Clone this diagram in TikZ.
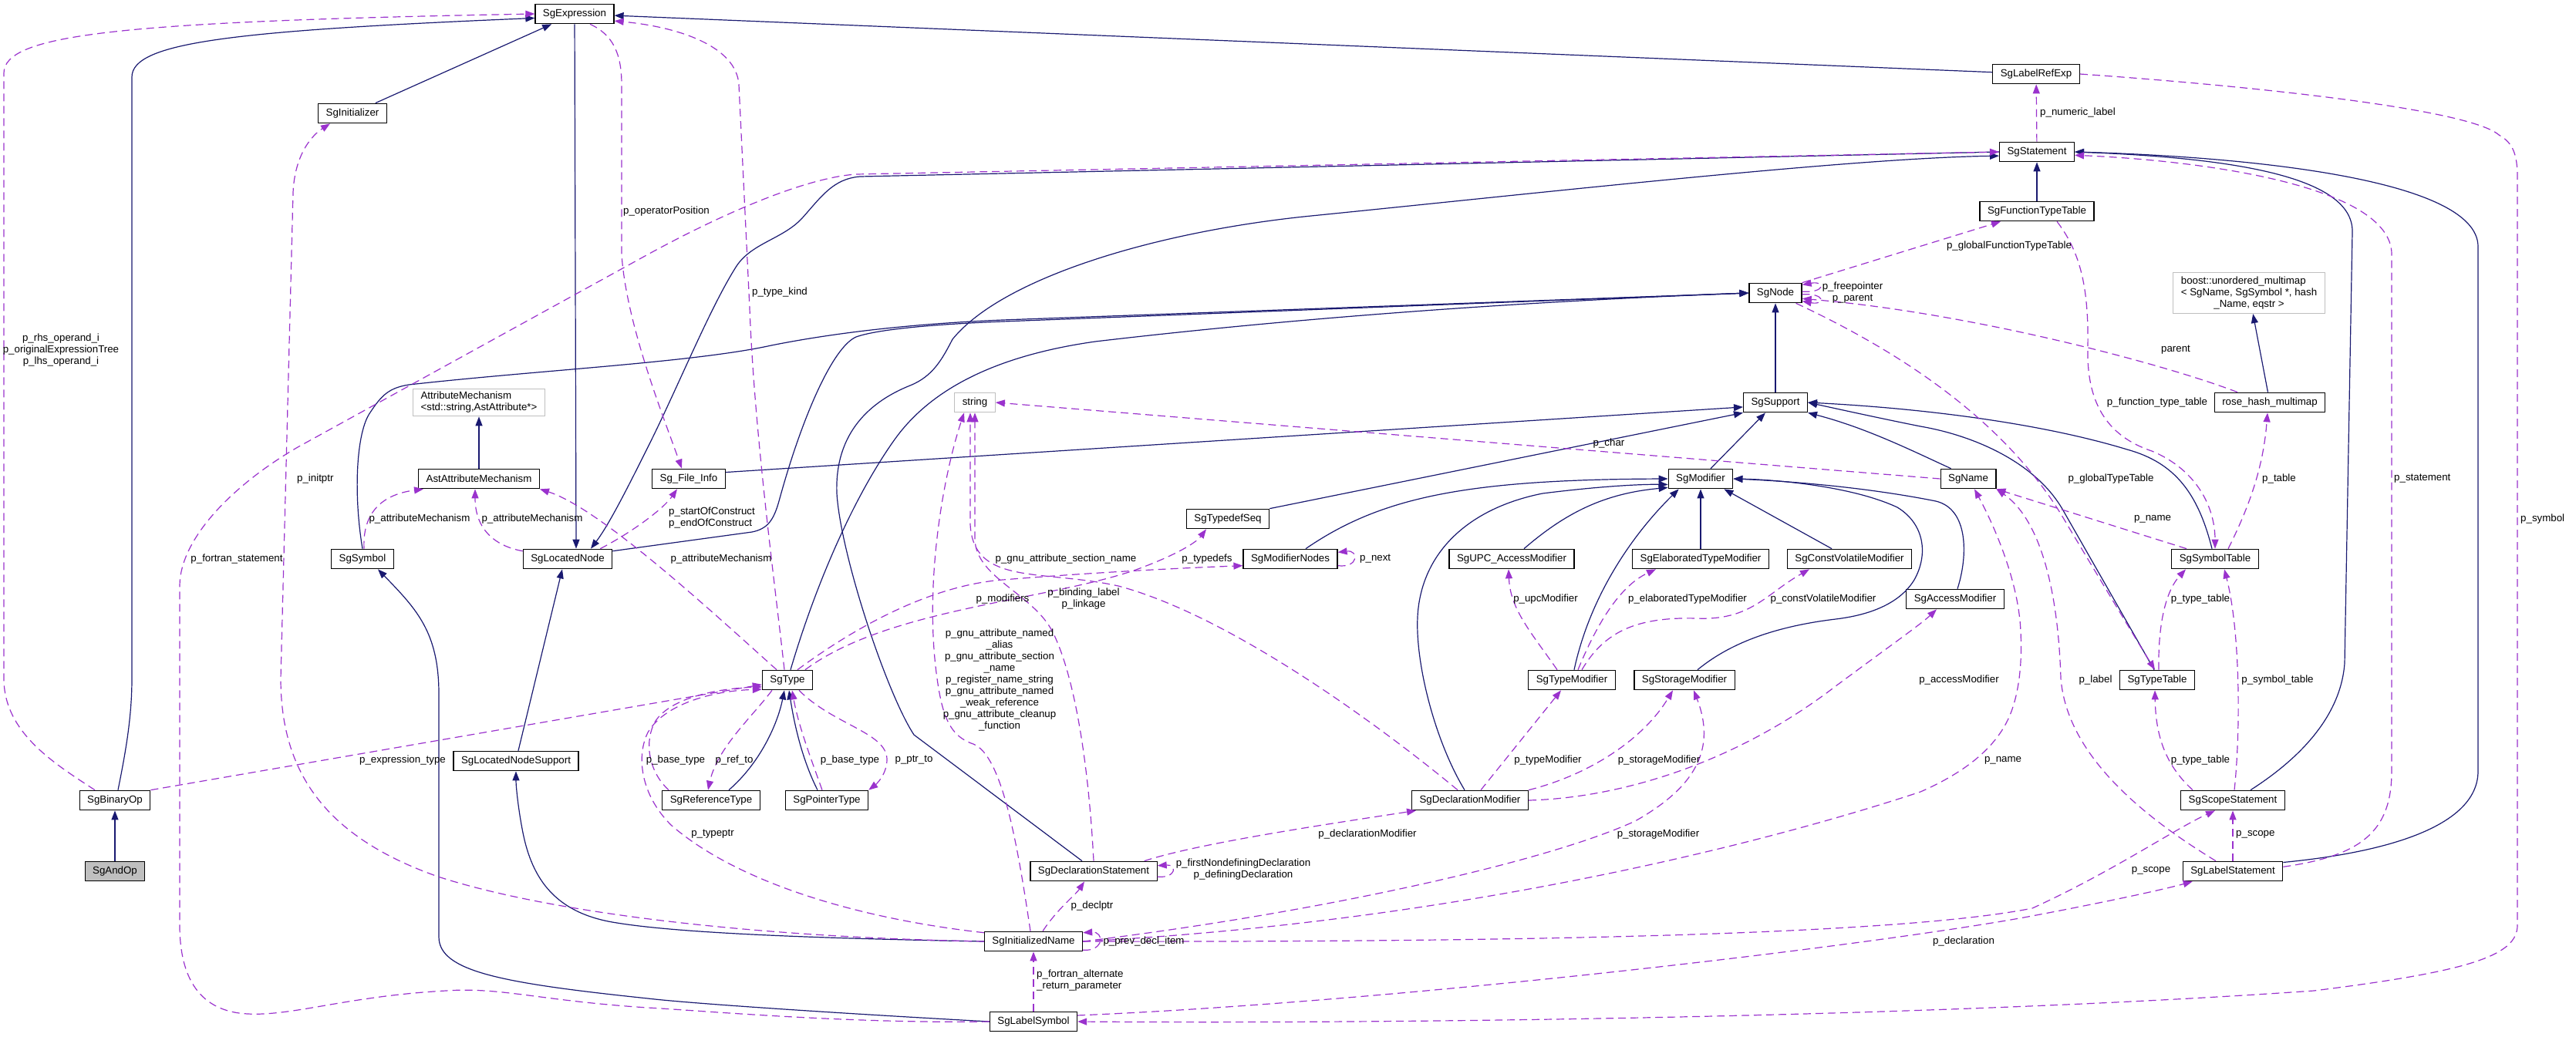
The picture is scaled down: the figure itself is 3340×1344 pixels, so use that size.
\documentclass[tikz,border=0pt]{standalone}
\usepackage{fontspec}
\newfontfamily\dxfont{Liberation Sans}
\newcommand\dxtext{\dxfont\fontsize{13.3}{15}\selectfont}
\usetikzlibrary{arrows.meta}
\definecolor{dxnavy}{HTML}{191970}
\definecolor{dxorchid}{HTML}{9A32CD}
\definecolor{dxgray}{HTML}{BFBFBF}
\tikzset{
    cls/.style={draw=black, fill=white, line width=1.2pt, minimum height=25.5pt,
                inner xsep=10pt, inner ysep=2pt, font=\dxtext},
    ext/.style={cls, draw=dxgray, align=left, inner ysep=4pt},
    inh/.style={draw=dxnavy, line width=1.2pt, -{Triangle[length=12pt,width=9pt]}},
    use/.style={draw=dxorchid, line width=1.2pt, dash pattern=on 10pt off 6pt,
                -{Triangle[length=12pt,width=9pt]}},
    lbl/.style={font=\dxtext, inner sep=0pt, align=center},
}
\begin{document}
\begin{tikzpicture}[x=1pt,y=-1pt]
    \useasboundingbox (0,0) rectangle (3340,1344);

    % classes
    \node[cls] (expr) at (745,18) {SgExpression};
    \node[cls] (init) at (457,147) {SgInitializer};
    \node[cls] (lref) at (2640,96) {SgLabelRefExp};
    \node[cls] (stmt) at (2641,197) {SgStatement};
    \node[cls] (ftt) at (2641,274) {SgFunctionTypeTable};
    \node[cls] (sgnode) at (2302,380) {SgNode};
    \node[ext] (boost) at (2916,380) {\begin{tabular}{@{}l@{}}boost::unordered\_multimap\\< SgName, SgSymbol *, hash\\\multicolumn{1}{@{}c@{}}{\_Name, eqstr >}\end{tabular}};
    \node[cls] (supp) at (2302,522) {SgSupport};
    \node[cls] (rhm) at (2943,522) {rose\_hash\_multimap};
    \node[ext] (str) at (1264,522) {string};
    \node[ext] (attm) at (621,522) {AttributeMechanism\\<std::string,AstAttribute*>};
    \node[cls] (astm) at (621,621) {AstAttributeMechanism};
    \node[cls] (finfo) at (893,621) {Sg\_File\_Info};
    \node[cls] (modf) at (2205,621) {SgModifier};
    \node[cls] (sgname) at (2552,621) {SgName};
    \node[cls] (tseq) at (1592,673) {SgTypedefSeq};
    \node[cls] (sym) at (470,725) {SgSymbol};
    \node[cls] (lnode) at (736,725) {SgLocatedNode};
    \node[cls] (mnodes) at (1673,725) {SgModifierNodes};
    \node[cls] (upc) at (1960,725) {SgUPC\_AccessModifier};
    \node[cls] (elab) at (2205,725) {SgElaboratedTypeModifier};
    \node[cls] (cvm) at (2398,725) {SgConstVolatileModifier};
    \node[cls] (symt) at (2872,725) {SgSymbolTable};
    \node[cls] (accm) at (2535,777) {SgAccessModifier};
    \node[cls] (sgtype) at (1021,882) {SgType};
    \node[cls] (tmod) at (2038,882) {SgTypeModifier};
    \node[cls] (smod) at (2184,882) {SgStorageModifier};
    \node[cls] (ttab) at (2797,882) {SgTypeTable};
    \node[cls] (lns) at (669,987) {SgLocatedNodeSupport};
    \node[cls] (reft) at (922,1038) {SgReferenceType};
    \node[cls] (ptrt) at (1072,1038) {SgPointerType};
    \node[cls] (binop) at (149,1038) {SgBinaryOp};
    \node[cls] (dmod) at (1906,1038) {SgDeclarationModifier};
    \node[cls] (sstmt) at (2895,1038) {SgScopeStatement};
    \node[cls, fill=dxgray] (andop) at (149,1130) {SgAndOp};
    \node[cls] (dstmt) at (1418,1130) {SgDeclarationStatement};
    \node[cls] (lstmt) at (2895,1130) {SgLabelStatement};
    \node[cls] (iname) at (1340,1221) {SgInitializedName};
    \node[cls] (lsym) at (1340,1325) {SgLabelSymbol};

    % inheritance
    \draw[inh] (andop) -- (binop);
    \draw[inh] ([xshift=4pt]binop.north) .. controls (163,975) and (171,930) .. (171,880) -- (171,100) .. controls (171,55) and (300,40) .. (expr.186);
    \draw[inh] (init) -- (expr);
    \draw[inh] (lref) -- (expr);
    \draw[inh] (expr) -- ([xshift=11pt]lnode.north);
    \draw[inh] (stmt.west) -- (1115,229) .. controls (1080,232) and (1065,255) .. (1040,283) .. controls (1015,310) and (975,315) .. (955,345) .. controls (920,400) and (880,500) .. (840,580) .. controls (815,630) and (790,680) .. ([xshift=30pt]lnode.north);
    \draw[inh] (ftt) -- (stmt);
    \draw[inh] ([xshift=-15pt]dstmt.north) -- (1185,953) .. controls (1150,900) and (1090,720) .. (1085,640) .. controls (1082,560) and (1130,520) .. (1180,500) .. controls (1210,488) and (1222,465) .. (1235,440) .. controls (1300,360) and (1500,300) .. (1700,280) .. controls (2000,250) and (2400,205) .. (stmt.186);
    \draw[inh] (sym.north) .. controls (458,640) and (462,560) .. (480,535) .. controls (495,512) and (505,503) .. (530,499) .. controls (700,480) and (900,470) .. (1000,448) .. controls (1080,432) and (1180,420) .. (1300,415) -- (sgnode.west);
    \draw[inh] (lnode.10) -- (975,690) .. controls (995,686) and (1003,675) .. (1010,650) .. controls (1040,540) and (1080,450) .. (1110,437) .. controls (1135,428) and (1200,421) .. (1300,417) -- (sgnode.west);
    \draw[inh] ([xshift=4pt]sgtype.north) .. controls (1060,750) and (1110,640) .. (1160,570) .. controls (1210,500) and (1300,460) .. (1420,443) .. controls (1700,410) and (2000,390) .. (sgnode.west);
    \draw[inh] (supp) -- (sgnode);
    \draw[inh] (astm) -- (attm);
    \draw[inh] (modf) -- (supp);
    \draw[inh] (finfo.10) -- (supp.188);
    \draw[inh] (tseq.north east) -- (supp.south west);
    \draw[inh] ([xshift=14pt]sgname.north west) .. controls (2480,585) and (2420,555) .. (supp.south east);
    \draw[inh] ([xshift=-4pt]symt.north) .. controls (2850,640) and (2820,600) .. (2758,583) .. controls (2650,550) and (2500,530) .. (supp.east);
    \draw[inh] ([xshift=-4pt]ttab.north) -- (2675,662) .. controls (2640,600) and (2560,565) .. (2490,553) .. controls (2440,543) and (2390,532) .. (supp.east);
    \draw[inh] (rhm) -- (boost);
    \draw[inh] ([xshift=20pt]mnodes.north) .. controls (1790,645) and (1900,622) .. (modf.west);
    \draw[inh] ([xshift=16pt]upc.north) .. controls (2030,665) and (2080,640) .. (modf.195);
    \draw[inh] ([xshift=-7pt]dmod.north) .. controls (1860,960) and (1835,860) .. (1838,800) .. controls (1842,720) and (1900,660) .. (2000,640) .. controls (2080,630) and (2130,628) .. (modf.190);
    \draw[inh] ([xshift=3pt]tmod.north) .. controls (2060,780) and (2110,700) .. ([xshift=14pt]modf.south west);
    \draw[inh] (elab) -- (modf);
    \draw[inh] ([xshift=-23pt]cvm.north) -- ([xshift=-12pt]modf.south east);
    \draw[inh] ([xshift=17pt]smod.north) .. controls (2230,845) and (2280,815) .. (2380,803) .. controls (2430,797) and (2465,780) .. (2482,752) .. controls (2500,720) and (2496,680) .. (2460,658) .. controls (2400,630) and (2300,622) .. (modf.east);
    \draw[inh] ([xshift=3pt]accm.north) .. controls (2552,720) and (2552,660) .. (2510,650) .. controls (2420,632) and (2320,624) .. (modf.east);
    \draw[inh] ([xshift=23pt]sstmt.north) .. controls (2980,985) and (3035,930) .. (3040,860) -- (3050,300) .. controls (3050,230) and (2900,205) .. (stmt.east);
    \draw[inh] (lstmt.10) .. controls (3100,1105) and (3213,1070) .. (3213,1000) -- (3213,320) .. controls (3213,230) and (2900,203) .. (stmt.east);
    \draw[inh] (lsym.west) .. controls (1100,1315) and (900,1302) .. (840,1295) .. controls (650,1275) and (569,1260) .. (569,1215) -- (569,900) .. controls (569,820) and (540,790) .. ([xshift=20pt]sym.south);
    \draw[inh] ([xshift=3pt]lns.north) -- ([xshift=-7pt]lnode.south);
    \draw[inh] (iname.west) .. controls (1050,1217) and (880,1210) .. (800,1197) .. controls (720,1185) and (690,1140) .. (678,1080) .. controls (672,1050) and (669,1020) .. (lns.south);
    \draw[inh] ([xshift=23pt]reft.north) .. controls (985,990) and (1008,940) .. ([xshift=-4pt]sgtype.south);
    \draw[inh] ([xshift=-12pt]ptrt.north) .. controls (1040,985) and (1030,940) .. ([xshift=2pt]sgtype.south);

    % members
    \draw[use] ([xshift=-26pt]binop.north) .. controls (70,990) and (5,950) .. (5,880) -- (5,95) .. controls (5,45) and (150,28) .. (expr.west);
    \draw[use] ([xshift=20pt]expr.south) .. controls (795,45) and (806,70) .. (806,110) -- (806,330) .. controls (812,420) and (860,540) .. ([xshift=-9pt]finfo.north);
    \draw[use] ([xshift=-4pt]sgtype.north) .. controls (1005,760) and (978,560) .. (972,400) -- (958,110) .. controls (955,60) and (880,35) .. (expr.-10);
    \draw[use] (lsym.west) .. controls (1100,1328) and (900,1310) .. (840,1307) .. controls (700,1298) and (650,1280) .. (578,1285) .. controls (450,1292) and (380,1318) .. (321,1315) .. controls (260,1312) and (233,1270) .. (233,1200) -- (233,760) .. controls (233,700) and (300,630) .. (386,580) -- (840,330) .. controls (950,270) and (1050,230) .. (1110,226) -- (stmt.west);
    \draw[use] (iname.west) .. controls (950,1215) and (700,1180) .. (568,1137) .. controls (420,1085) and (364,1000) .. (364,880) -- (380,250) .. controls (382,200) and (405,175) .. ([xshift=-29pt]init.south);
    \draw[use] ([xshift=2pt]sym.north) .. controls (470,670) and (490,642) .. ([xshift=-72pt]astm.south);
    \draw[use] (lnode.170) .. controls (640,708) and (616,685) .. ([xshift=-5pt]astm.south);
    \draw[use] ([xshift=-14pt]sgtype.north) .. controls (930,800) and (780,660) .. (astm.south east);
    \draw[use] ([xshift=-16pt]lnode.north east) .. controls (820,690) and (860,660) .. ([xshift=-15pt]finfo.south);
    \draw[use] ([xshift=13pt]sgtype.north) .. controls (1100,820) and (1200,760) .. (1300,752) .. controls (1400,744) and (1500,738) .. (mnodes.188);
    \draw[use] ([xshift=23pt]sgtype.north) .. controls (1150,790) and (1350,780) .. (1470,740) .. controls (1520,722) and (1550,705) .. ([xshift=-28pt]tseq.south);
    \draw[use] (mnodes.-8) .. controls (1762,737) and (1762,713) .. (mnodes.8);
    \draw[use] ([xshift=-4pt]iname.north) .. controls (1320,1100) and (1300,980) .. (1262,965) .. controls (1232,955) and (1222,930) .. (1215,880) .. controls (1198,760) and (1222,620) .. ([xshift=-14pt]str.south);
    \draw[use] (dstmt.north) .. controls (1412,1000) and (1395,880) .. (1365,820) .. controls (1340,770) and (1266,750) .. (1264,700) -- (str.south);
    \draw[use] ([xshift=-16pt]dmod.north) .. controls (1800,950) and (1600,800) .. (1450,760) .. controls (1350,738) and (1262,760) .. (1258,680) -- ([xshift=-6pt]str.south);
    \draw[use] (sgname.west) -- (str.east);
    \draw[use] (sgnode.3) .. controls (2368,380) and (2366,364) .. (sgnode.17);
    \draw[use] (sgnode.-3) .. controls (2368,380) and (2366,396) .. (sgnode.-17);
    \draw[use] (sgnode.north east) -- ([xshift=-47pt]ftt.south);
    \draw[use] ([xshift=-42pt]rhm.north) .. controls (2800,470) and (2550,405) .. (sgnode.-12);
    \draw[use] ([xshift=-8pt]sgnode.south east) .. controls (2450,450) and (2600,540) .. (2680,680) .. controls (2740,780) and (2770,830) .. ([xshift=-3pt]ttab.north);
    \draw[use] (stmt) -- (lref);
    \draw[use] ([xshift=26pt]ftt.south) .. controls (2700,330) and (2708,380) .. (2707,450) .. controls (2705,520) and (2730,565) .. (2790,585) .. controls (2850,610) and (2872,660) .. (symt.north);
    \draw[use] ([xshift=17pt]symt.north) .. controls (2920,650) and (2935,600) .. ([xshift=-3pt]rhm.south);
    \draw[use] ([xshift=-37pt]symt.north) -- (sgname.south east);
    \draw[use] ([xshift=-52pt]sstmt.north) .. controls (2805,990) and (2795,950) .. ([xshift=-3pt]ttab.south);
    \draw[use] ([xshift=2pt]ttab.north) .. controls (2798,820) and (2805,770) .. ([xshift=-38pt]symt.south);
    \draw[use] ([xshift=2pt]sstmt.north) .. controls (2905,950) and (2905,820) .. ([xshift=12pt]symt.south);
    \draw[use] (lstmt) -- (sstmt);
    \draw[use] (iname.east) .. controls (1900,1222) and (2450,1215) .. (2635,1178) .. controls (2740,1130) and (2820,1075) .. ([xshift=-23pt]sstmt.south);
    \draw[use] (iname.east) .. controls (1900,1195) and (2300,1090) .. (2490,1027) .. controls (2540,1005) and (2585,975) .. (2605,930) .. controls (2618,900) and (2622,860) .. (2620,820) .. controls (2618,760) and (2590,690) .. ([xshift=8pt]sgname.south);
    \draw[use] (iname.east) .. controls (1700,1185) and (2000,1120) .. (2120,1065) .. controls (2200,1020) and (2225,970) .. ([xshift=12pt]smod.south);
    \draw[use] (iname.-10) .. controls (1432,1234) and (1432,1208) .. (iname.10);
    \draw[use] ([xshift=12pt]iname.north) .. controls (1370,1180) and (1395,1160) .. ([xshift=-12pt]dstmt.south);
    \draw[use] (lsym) -- (iname);
    \draw[use] (dstmt.-5) .. controls (1526,1139) and (1526,1121) .. (dstmt.5);
    \draw[use] ([xshift=-17pt]dstmt.north east) .. controls (1550,1095) and (1700,1072) .. ([xshift=6pt]dmod.south west);
    \draw[use] ([xshift=14pt]dmod.north) -- ([xshift=-14pt]tmod.south);
    \draw[use] (dmod.north east) .. controls (2060,1005) and (2130,960) .. ([xshift=-15pt]smod.south);
    \draw[use] (dmod.east) .. controls (2100,1035) and (2250,990) .. (2380,890) .. controls (2450,838) and (2490,810) .. ([xshift=-24pt]accm.south);
    \draw[use] ([xshift=-19pt]tmod.north) .. controls (1985,820) and (1958,790) .. ([xshift=-4pt]upc.south);
    \draw[use] ([xshift=8pt]tmod.north) .. controls (2070,810) and (2100,760) .. ([xshift=-58pt]elab.south);
    \draw[use] ([xshift=13pt]tmod.north) .. controls (2080,820) and (2120,800) .. (2200,802) .. controls (2270,805) and (2290,770) .. ([xshift=-52pt]cvm.south);
    \draw[use] ([xshift=-22pt]lstmt.north) .. controls (2780,1060) and (2680,980) .. (2672,880) .. controls (2668,750) and (2640,670) .. (sgname.south east);
    \draw[use] (lstmt.5) .. controls (3060,1110) and (3101,1080) .. (3101,1000) -- (3101,330) .. controls (3101,240) and (2850,208) .. (stmt.-5);
    \draw[use] (lref.east) .. controls (2900,110) and (3200,140) .. (3240,175) .. controls (3258,185) and (3264,200) .. (3264,230) -- (3264,1200) .. controls (3264,1240) and (3200,1260) .. (3000,1285) .. controls (2500,1320) and (1800,1328) .. (lsym.east);
    \draw[use] (lsym.8) .. controls (1800,1300) and (2400,1230) .. (2624,1190) .. controls (2720,1172) and (2800,1155) .. ([xshift=13pt]lstmt.south west);
    \draw[use] (binop.north east) -- (sgtype.190);
    \draw[use] (iname.170) .. controls (1100,1190) and (950,1140) .. (870,1070) .. controls (830,1030) and (825,980) .. (840,950) .. controls (860,915) and (920,896) .. (sgtype.200);
    \draw[use] ([xshift=-55pt]reft.north) .. controls (840,1000) and (835,960) .. (850,935) .. controls (870,905) and (930,893) .. (sgtype.195);
    \draw[use] ([xshift=-20pt]sgtype.south) .. controls (975,930) and (930,970) .. ([xshift=-4pt]reft.north);
    \draw[use] ([xshift=15pt]sgtype.south) .. controls (1080,940) and (1150,950) .. (1150,985) .. controls (1150,1005) and (1135,1018) .. (ptrt.north east);
    \draw[use] ([xshift=-6pt]ptrt.north) .. controls (1050,980) and (1035,940) .. ([xshift=6pt]sgtype.south);

    % member names
    \node[lbl] (l1) at (79,454) {p\_rhs\_operand\_i\\p\_originalExpressionTree\\p\_lhs\_operand\_i};
    \node[lbl] (l2) at (864,274) {p\_operatorPosition};
    \node[lbl] (l3) at (1011,379) {p\_type\_kind};
    \node[lbl, anchor=west] (l4) at (385,621) {p\_initptr};
    \node[lbl] (l5) at (307,725) {p\_fortran\_statement};
    \node[lbl] (l6) at (544,673) {p\_attributeMechanism};
    \node[lbl] (l7) at (690,673) {p\_attributeMechanism};
    \node[lbl, anchor=west, align=left] (l8) at (867,672) {p\_startOfConstruct\\p\_endOfConstruct};
    \node[lbl] (l9) at (935,725) {p\_attributeMechanism};
    \node[lbl] (l10) at (1382,725) {p\_gnu\_attribute\_section\_name};
    \node[lbl] (l11) at (1565,725) {p\_typedefs};
    \node[lbl] (l12) at (1300,777) {p\_modifiers};
    \node[lbl] (l13) at (1405,777) {p\_binding\_label\\p\_linkage};
    \node[lbl] (l14) at (1296,882) {p\_gnu\_attribute\_named\\\_alias\\p\_gnu\_attribute\_section\\\_name\\p\_register\_name\_string\\p\_gnu\_attribute\_named\\\_weak\_reference\\p\_gnu\_attribute\_cleanup\\\_function};
    \node[lbl] (l15) at (2086,575) {p\_char};
    \node[lbl, anchor=west] (l16) at (1763,725) {p\_next};
    \node[lbl] (l17) at (2004,777) {p\_upcModifier};
    \node[lbl] (l18) at (2188,777) {p\_elaboratedTypeModifier};
    \node[lbl] (l19) at (2364,777) {p\_constVolatileModifier};
    \node[lbl] (l20) at (2402,380) {p\_freepointer\\p\_parent};
    \node[lbl, anchor=west] (l21) at (2645,146) {p\_numeric\_label};
    \node[lbl] (l22) at (2605,319) {p\_globalFunctionTypeTable};
    \node[lbl] (l23) at (2821,454) {parent};
    \node[lbl] (l24) at (2797,522) {p\_function\_type\_table};
    \node[lbl] (l25) at (2737,621) {p\_globalTypeTable};
    \node[lbl] (l26) at (2955,621) {p\_table};
    \node[lbl, anchor=west] (l27) at (3104,621) {p\_statement};
    \node[lbl] (l28) at (2791,673) {p\_name};
    \node[lbl, anchor=west] (l29) at (3268,673) {p\_symbol};
    \node[lbl] (l30) at (2853,777) {p\_type\_table};
    \node[lbl] (l31) at (2540,882) {p\_accessModifier};
    \node[lbl] (l32) at (2717,882) {p\_label};
    \node[lbl] (l33) at (2953,882) {p\_symbol\_table};
    \node[lbl] (l34) at (522,986) {p\_expression\_type};
    \node[lbl] (l35) at (876,986) {p\_base\_type};
    \node[lbl] (l36) at (952,986) {p\_ref\_to};
    \node[lbl] (l37) at (1102,986) {p\_base\_type};
    \node[lbl] (l38) at (1185,986) {p\_ptr\_to};
    \node[lbl] (l39) at (924,1082) {p\_typeptr};
    \node[lbl] (l40) at (1612,1128) {p\_firstNondefiningDeclaration\\p\_definingDeclaration};
    \node[lbl] (l41) at (1416,1175) {p\_declptr};
    \node[lbl] (l42) at (1483,1221) {p\_prev\_decl\_item};
    \node[lbl, anchor=west, align=left] (l43) at (1344,1272) {p\_fortran\_alternate\\\_return\_parameter};
    \node[lbl] (l44) at (2007,986) {p\_typeModifier};
    \node[lbl] (l45) at (2151,986) {p\_storageModifier};
    \node[lbl] (l46) at (1773,1082) {p\_declarationModifier};
    \node[lbl] (l47) at (2150,1082) {p\_storageModifier};
    \node[lbl] (l48) at (2853,986) {p\_type\_table};
    \node[lbl, anchor=west] (l49) at (2899,1082) {p\_scope};
    \node[lbl] (l50) at (2789,1129) {p\_scope};
    \node[lbl] (l51) at (2597,986) {p\_name};
    \node[lbl] (l52) at (2546,1221) {p\_declaration};
\end{tikzpicture}
\end{document}
